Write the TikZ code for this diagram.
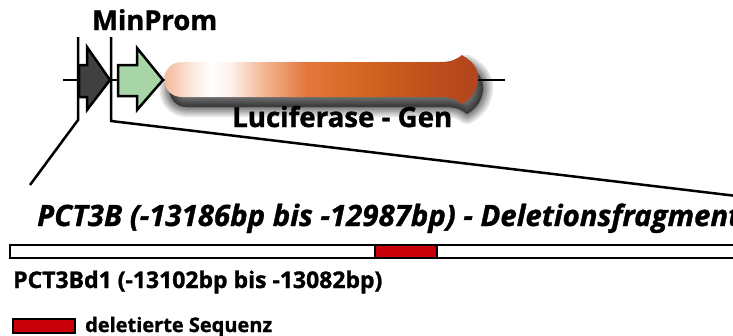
\documentclass[tikz,border=0pt]{standalone}
\usepackage{fontspec}
\setmainfont{Open Sans}[BoldFeatures={FakeBold=1.2}, BoldItalicFeatures={FakeBold=1.2}]
\usepackage{graphicx}
\definecolor{darkarrow}{HTML}{404040}
\definecolor{greenarrow}{HTML}{A8D5A6}
\definecolor{delred}{HTML}{C8000A}
\definecolor{lucA}{HTML}{F2B08E}
\definecolor{lucB}{HTML}{FBE6DA}
\definecolor{lucC}{HTML}{FDF4EE}
\definecolor{lucD}{HTML}{F1B08A}
\definecolor{lucE}{HTML}{E5773E}
\definecolor{lucF}{HTML}{D86A24}
\definecolor{lucG}{HTML}{C95A1E}
\definecolor{lucH}{HTML}{B84A1C}
\definecolor{lucI}{HTML}{B3441C}
\pgfdeclarehorizontalshading{lucshade}{100bp}{color(0bp)=(lucA); color(25bp)=(lucA); color(30bp)=(lucB); color(33bp)=(white); color(36bp)=(lucC); color(42bp)=(lucD); color(48bp)=(lucE); color(55bp)=(lucF); color(62bp)=(lucG); color(70bp)=(lucH); color(75bp)=(lucI); color(100bp)=(lucI)}
\tikzset{
  wire/.style={line width=2.5pt, line join=miter},
  arrowbox/.style={draw=black, line width=2.5pt, line join=miter},
  txt/.style={inner sep=0pt, anchor=base west, font=\bfseries},
  segbox/.style={draw=black, line width=2.5pt},
  shadowlayer/.style={draw=black, fill=black, draw opacity=0.1, fill opacity=0.1, line join=round},
}
\def\lucpath{(182,62) -- (440,62) .. controls (452,62) and (457,59) .. (462,55)
  .. controls (474,62) and (479,70) .. (478,80)
  .. controls (477,90) and (472,98) .. (462,104)
  .. controls (457,100) and (452,97) .. (440,97)
  -- (182,97) .. controls (158.7,97) and (158.7,62) .. (182,62) -- cycle}
\begin{document}
\begin{tikzpicture}[x=1pt,y=-1pt]
\clip (0,0) rectangle (733,335);
\fill[white] (0,0) rectangle (733,335);
% named points
\coordinate (v1top) at (78,37);
\coordinate (v1bot) at (78,120);
\coordinate (d1end) at (30,185);
\coordinate (v2top) at (111,37);
\coordinate (v2bot) at (111,121);
\coordinate (d2end) at (770,200);
\coordinate (lineL) at (63,80);
\coordinate (lineR) at (505,80);
% connectors
\draw[wire] (v1top) -- (v1bot) -- (d1end);
\draw[wire] (v2top) -- (v2bot) -- (d2end);
% luciferase shadow (soft, stacked layers)
\begin{scope}[shift={(5,10)}]
\foreach \w in {20,16,12,9,6,3,0.5} {
  \path[shadowlayer, line width=\w pt] \lucpath;
}
\end{scope}
\draw[wire] (lineL) -- (lineR);
% dark promoter arrow
\draw[arrowbox, fill=darkarrow] (79,65) -- (87,65) -- (87,47) -- (110,80) -- (87,110) -- (87,97) -- (79,97) -- cycle;
% green MinProm arrow
\draw[arrowbox, fill=greenarrow] (118,65) -- (137,65) -- (137,48) -- (163,80) -- (137,110) -- (137,96) -- (118,96) -- cycle;
% luciferase gene
\shade[shading=lucshade] \lucpath;
% texts
\node[txt] (minprom) at (92,30) {\resizebox{125pt}{!}{MinProm}};
\node[txt] (lucgen) at (232,127) {\resizebox{220pt}{!}{Luciferase - Gen}};
\node[txt] (title) at (37,226) {\resizebox{703pt}{!}{\itshape PCT3B (-13186bp bis -12987bp) - Deletionsfragment}};
% fragment bar
\draw[segbox, fill=white] (10,245) rectangle (770,258);
\draw[segbox, fill=delred] (375,245) rectangle (437,258);
\node[txt] (subtitle) at (13,288) {\resizebox{369pt}{!}{PCT3Bd1 (-13102bp bis -13082bp)}};
% legend
\draw[segbox, fill=delred, line width=1.5pt] (13,319) rectangle (75,333);
\node[txt] (legendtext) at (85,332) {\resizebox{187pt}{!}{deletierte Sequenz}};
\end{tikzpicture}
\end{document}
